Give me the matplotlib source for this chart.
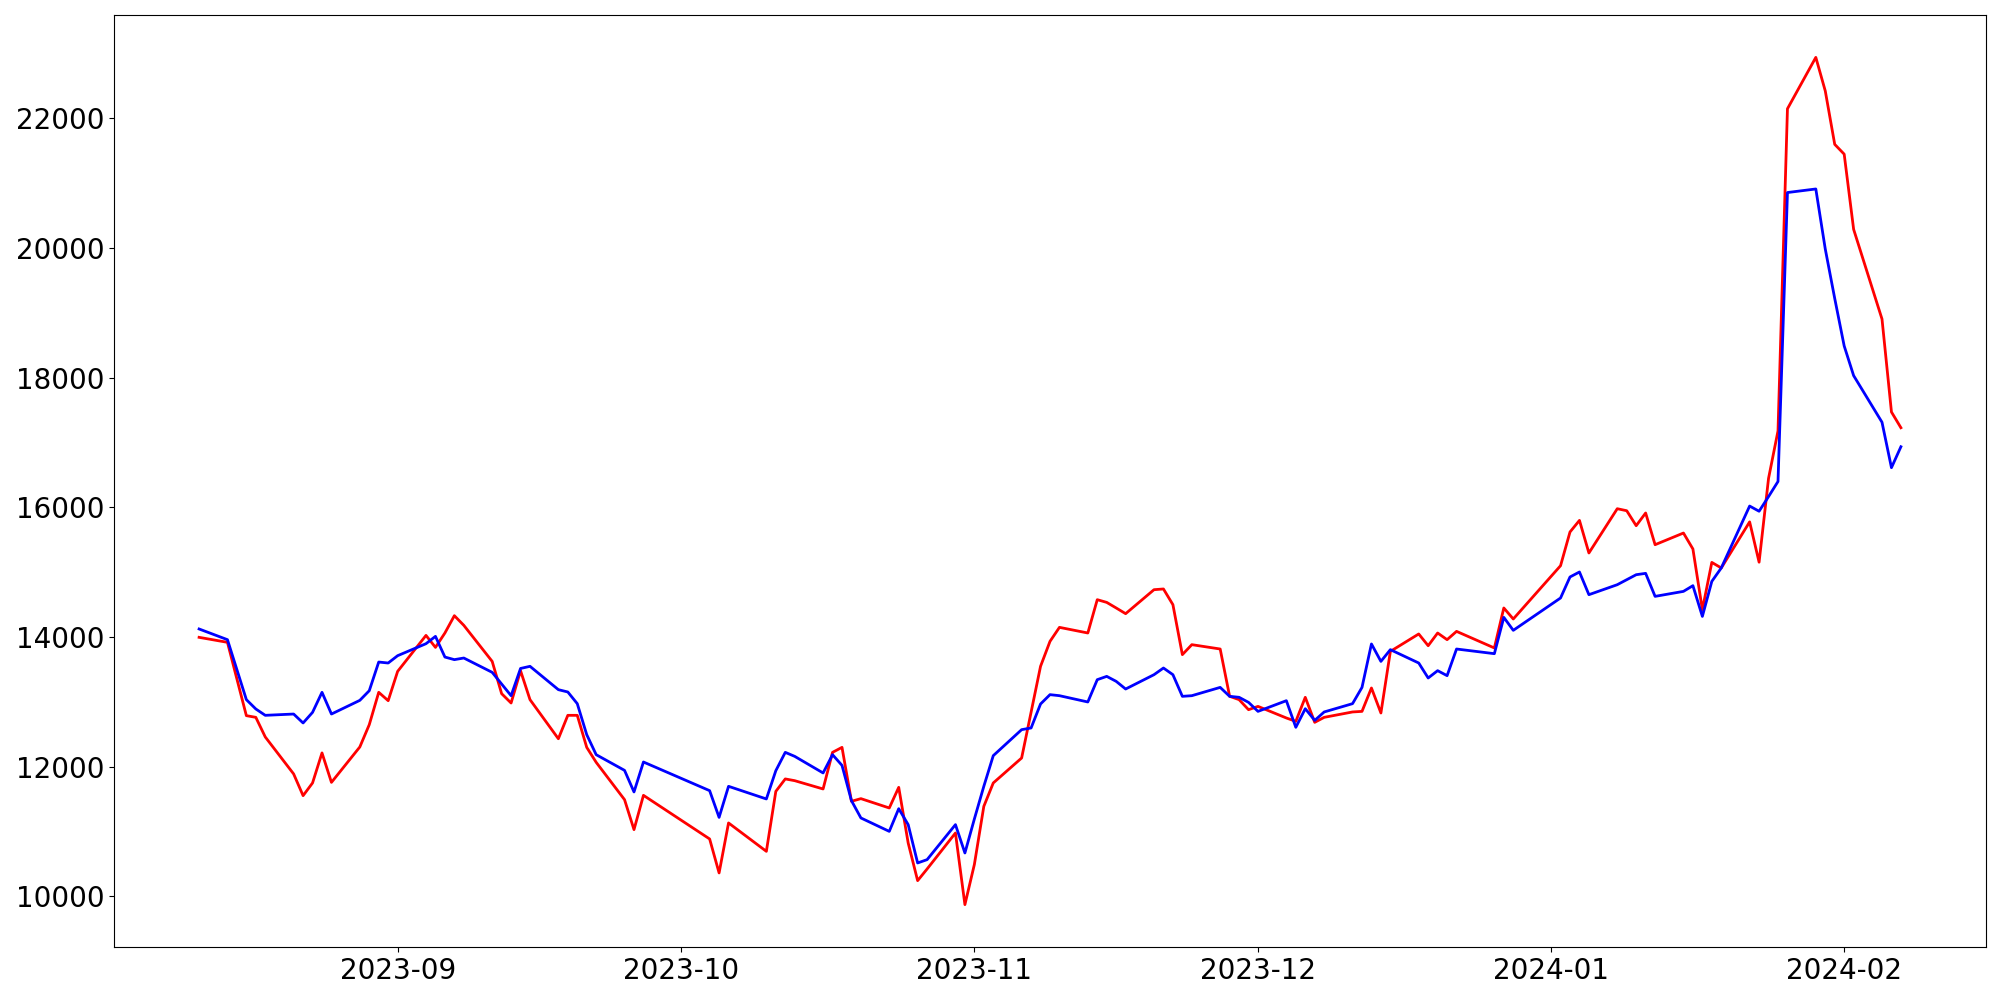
import numpy as np
import pandas as pd
import matplotlib
matplotlib.use("Agg")
import matplotlib.pyplot as plt

# KRX closed days inside the range
holidays = ["2023-08-15", "2023-09-28", "2023-09-29", "2023-10-02", "2023-10-03",
            "2023-10-09", "2023-12-25", "2023-12-29", "2024-01-01"]
dates = pd.bdate_range("2023-08-11", "2024-02-07", freq="C", holidays=holidays)

red = [13995, 13918, 12787, 12761, 12458,
       11888, 11553, 11749, 12212, 11758,
       12304, 12648, 13147, 13018, 13470,
       14025, 13840, 14062, 14329, 14180,
       13624, 13126, 12982, 13480, 13034,
       12431, 12792, 12792, 12298, 12067,
       11491, 11029, 11558,
       10885, 10361, 11132,
       10694, 11619, 11811, 11784,
       11656, 12221, 12298, 11466, 11507,
       11363, 11681, 10823, 10242, 10422,
       10977, 9872, 10491, 11388, 11749,
       12134, 12840, 13548, 13933, 14149,
       14062, 14576, 14534, 14448, 14360,
       14730, 14741, 14499, 13728, 13882,
       13815, 13085, 13034, 12879, 12930,
       12751, 12699, 13070, 12684, 12761,
       12844, 12853, 13214, 12828, 13778,
       14047, 13866, 14062, 13959, 14087,
       13831, 14448, 14278,
       15100, 15620, 15799, 15296,
       15979, 15948, 15717, 15913, 15424,
       15604, 15358, 14422, 15151, 15065,
       15776, 15154, 16447, 17179, 22148,
       22941, 22423, 21599, 21448, 20288,
       18905, 17471, 17228]

blue = [14124, 13959, 13034, 12890, 12792,
        12812, 12674, 12838, 13147, 12812,
        13023, 13172, 13614, 13599, 13712,
        13897, 14010, 13691, 13651, 13676,
        13455, 13275, 13095, 13515, 13548,
        13188, 13152, 12972, 12494, 12185,
        11943, 11610, 12072,
        11630, 11218, 11697,
        11502, 11938, 12221, 12159,
        11903, 12185, 12020, 11476, 11209,
        11002, 11352, 11106, 10515, 10566,
        11106, 10669, 11193, 11697, 12170,
        12571, 12597, 12967, 13111, 13095,
        12998, 13342, 13393, 13316, 13198,
        13419, 13522, 13419, 13085, 13095,
        13223, 13085, 13070, 12992, 12853,
        13018, 12607, 12894, 12714, 12844,
        12972, 13223, 13893, 13624, 13805,
        13599, 13368, 13481, 13404, 13815,
        13743, 14303, 14103,
        14602, 14926, 15003, 14653,
        14807, 14884, 14961, 14982, 14627,
        14704, 14792, 14318, 14858, 15065,
        16020, 15940, 16166, 16399, 20856,
        20911, 19985, 19222, 18490, 18032,
        17313, 16612, 16935]

fig = plt.figure(figsize=(20, 10), dpi=100)
ax = fig.add_subplot(111)
ax.plot(dates, red, color="red", linewidth=2)
ax.plot(dates, blue, color="blue", linewidth=2)
ax.tick_params(labelsize=20)
fig.subplots_adjust(left=0.057, right=0.993, top=0.985, bottom=0.053)
fig.savefig("out.png")
